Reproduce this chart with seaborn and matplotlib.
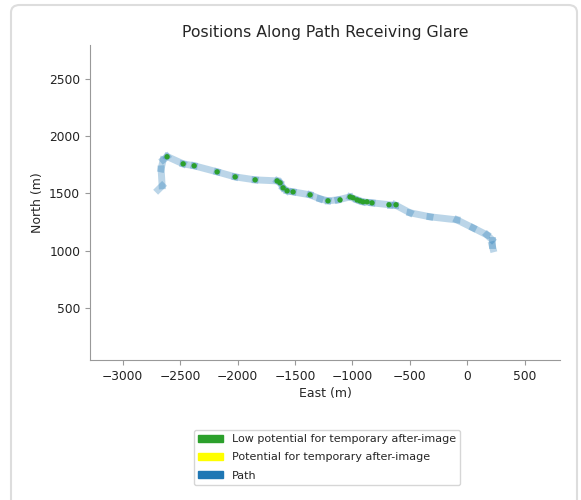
import matplotlib

matplotlib.use("Agg")
import matplotlib.pyplot as plt
import pandas as pd
import seaborn as sns
from matplotlib.patches import FancyBboxPatch, Patch

# path vertices (east, north) in metres
path_east = [-2692, -2657, -2666, -2648, -2614, -2474, -2378, -2178, -2021, -1847,
             -1656, -1630, -1604, -1569, -1517, -1369, -1282, -1213, -1126, -1021,
             -960, -908, -830, -673, -630, -499, -325, -90, 50, 171, 215, 215, 224]
path_north = [1531, 1566, 1714, 1793, 1822, 1758, 1741, 1688, 1644, 1618,
              1609, 1592, 1548, 1522, 1513, 1487, 1452, 1435, 1443, 1469,
              1443, 1426, 1417, 1400, 1400, 1330, 1295, 1268, 1198, 1137, 1094, 1050, 1015]

# positions receiving glare (low potential for temporary after-image)
glare_east = [-2614, -2474, -2378, -2178, -2021, -1847, -1656, -1630, -1604, -1569,
              -1517, -1369, -1213, -1108, -1021, -995, -960, -934, -908, -873,
              -830, -682, -621]
glare_north = [1820, 1758, 1741, 1688, 1644, 1618, 1609, 1592, 1548, 1522,
               1513, 1487, 1435, 1443, 1469, 1461, 1443, 1434, 1426, 1426,
               1417, 1400, 1400]

legend_labels = ["Low potential for temporary after-image",
                 "Potential for temporary after-image",
                 "Path"]

sns.set_style("ticks")
plt.rcParams["font.family"] = ["DejaVu Sans"]
plt.rcParams["axes.edgecolor"] = "#999999"
plt.rcParams["xtick.color"] = "#999999"
plt.rcParams["ytick.color"] = "#999999"
plt.rcParams["xtick.labelcolor"] = "#222222"
plt.rcParams["ytick.labelcolor"] = "#222222"

# each segment as its own unit so overlaps at joints look darker
rows = []
for i in range(len(path_east) - 1):
    rows.append({"seg": i, "east": path_east[i], "north": path_north[i]})
    rows.append({"seg": i, "east": path_east[i + 1], "north": path_north[i + 1]})
segments = pd.DataFrame(rows)
glare = pd.DataFrame({"east": glare_east, "north": glare_north})

fig = plt.figure(figsize=(5.81, 5.0), dpi=100)
ax = fig.add_axes([90 / 581, 1 - 360 / 500, 470 / 581, 315 / 500])

sns.lineplot(data=segments, x="east", y="north", units="seg", estimator=None, sort=False,
             color="#1f77b4", alpha=0.3, linewidth=5, solid_capstyle="projecting",
             legend=False, ax=ax)
sns.scatterplot(data=glare, x="east", y="north", color="#2ca02c", s=15,
                edgecolor="none", legend=False, ax=ax, zorder=3)

ax.set_xlim(-3285, 807)
ax.set_ylim(43, 2797)
ax.set_xticks([-3000, -2500, -2000, -1500, -1000, -500, 0, 500])
ax.set_yticks([500, 1000, 1500, 2000, 2500])
ax.tick_params(labelsize=8.8, length=3.5)
ax.set_xlabel("East (m)", fontsize=9, labelpad=3)
ax.set_ylabel("North (m)", fontsize=9)
ax.set_title("Positions Along Path Receiving Glare", fontsize=11.3, pad=6)
sns.despine(ax=ax)

handles = [Patch(color="#2ca02c"), Patch(color="#ffff00"), Patch(color="#1f77b4")]
fig.legend(handles, legend_labels, loc="upper center", bbox_to_anchor=(0.563, 0.152),
           fontsize=8, frameon=True, fancybox=True, edgecolor="#cccccc",
           handlelength=2.2, handleheight=0.6, labelspacing=0.75)

frame = FancyBboxPatch((11 / 581, -0.05), 566 / 581, 1 - 5 / 500 + 0.05,
                       boxstyle="round,pad=0,rounding_size=0.015",
                       transform=fig.transFigure, facecolor="none",
                       edgecolor="#dddddd", linewidth=1.5, zorder=0)
fig.patches.append(frame)

fig.savefig("out.png", dpi=100)
